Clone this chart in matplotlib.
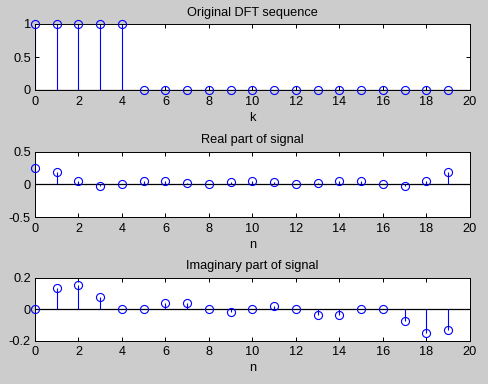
import matplotlib
matplotlib.use('Agg')
import matplotlib.pyplot as plt
from matplotlib import rcParams

rcParams['font.family'] = ['Liberation Sans', 'DejaVu Sans']
rcParams['font.size'] = 9

k = list(range(20))
n = list(range(20))

dft_seq = [1, 1, 1, 1, 1, 0, 0, 0, 0, 0, 0, 0, 0, 0, 0, 0, 0, 0, 0, 0]

real_part = [0.25, 0.183, 0.05, -0.024, 0.0, 0.05, 0.05, 0.012, 0.0, 0.029,
             0.05, 0.029, 0.0, 0.012, 0.05, 0.05, 0.0, -0.024, 0.05, 0.183]

imag_part = [0.0, 0.133, 0.154, 0.074, 0.0, 0.0, 0.036, 0.038, 0.0, -0.021,
             0.0, 0.021, 0.0, -0.038, -0.036, 0.0, 0.0, -0.074, -0.154, -0.133]

panels = [
    (k, dft_seq, 'Original DFT sequence', 'k', (0, 1), [0, 0.5, 1], ['0', '0.5', '1']),
    (n, real_part, 'Real part of signal', 'n', (-0.5, 0.5), [-0.5, 0, 0.5], ['-0.5', '0', '0.5']),
    (n, imag_part, 'Imaginary part of signal', 'n', (-0.2, 0.2), [-0.2, 0, 0.2], ['-0.2', '0', '0.2']),
]

# axes boxes in pixels: (top, bottom)
W, H = 489, 384
boxes = [(24, 90), (151.5, 217), (277.5, 340.5)]
left, right = 35, 470

fig = plt.figure(figsize=(W / 100, H / 100), dpi=100, facecolor='#cccccc')

for (x, y, title, xlabel, ylim, yt, ytl), (top, bot) in zip(panels, boxes):
    ax = fig.add_axes([left / W, 1 - bot / H, (right - left) / W, (bot - top) / H])
    ax.set_facecolor('white')
    ax.vlines(x, 0, y, colors='blue', linewidth=0.8, zorder=2)
    ax.plot(x, y, 'o', markerfacecolor='none', markeredgecolor='blue',
            markersize=5.8, markeredgewidth=0.8, zorder=3, clip_on=False)
    ax.axhline(0, color='black', linewidth=0.9, zorder=1)
    ax.set_xlim(0, 20)
    ax.set_ylim(*ylim)
    ax.set_xticks(range(0, 21, 2))
    ax.set_yticks(yt)
    ax.set_yticklabels(ytl)
    ax.tick_params(direction='in', length=3, width=0.7, top=True, right=True,
                   labelsize=9.2)
    ax.tick_params(axis='x', pad=4)
    ax.tick_params(axis='y', pad=3)
    for s in ax.spines.values():
        s.set_linewidth(0.7)
    ax.set_title(title, fontsize=9.2, pad=6)
    ax.set_xlabel(xlabel, fontsize=9.2, labelpad=3)

fig.savefig('out.png', dpi=100, facecolor=fig.get_facecolor())
